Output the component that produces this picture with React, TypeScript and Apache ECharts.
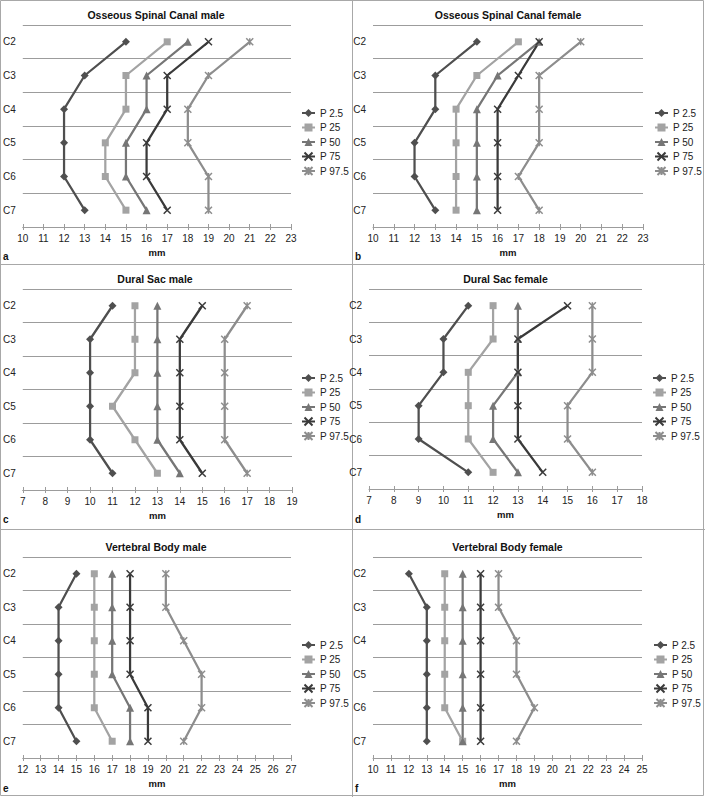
import React, { useEffect, useRef } from "react";
import * as echarts from "echarts";

const categories = ["C2", "C3", "C4", "C5", "C6", "C7"];
const percentiles = ["P 2.5", "P 25", "P 50", "P 75", "P 97.5"];

// rows: P 2.5, P 25, P 50, P 75, P 97.5 ; columns: C2..C7 (mm)
const osseousMale = [
  [15, 13, 12, 12, 12, 13],
  [17, 15, 15, 14, 14, 15],
  [18, 16, 16, 15, 15, 16],
  [19, 17, 17, 16, 16, 17],
  [21, 19, 18, 18, 19, 19],
];
const osseousFemale = [
  [15, 13, 13, 12, 12, 13],
  [17, 15, 14, 14, 14, 14],
  [18, 16, 15, 15, 15, 15],
  [18, 17, 16, 16, 16, 16],
  [20, 18, 18, 18, 17, 18],
];
const duralMale = [
  [11, 10, 10, 10, 10, 11],
  [12, 12, 12, 11, 12, 13],
  [13, 13, 13, 13, 13, 14],
  [15, 14, 14, 14, 14, 15],
  [17, 16, 16, 16, 16, 17],
];
const duralFemale = [
  [11, 10, 10, 9, 9, 11],
  [12, 12, 11, 11, 11, 12],
  [13, 13, 13, 12, 12, 13],
  [15, 13, 13, 13, 13, 14],
  [16, 16, 16, 15, 15, 16],
];
const vertebralMale = [
  [15, 14, 14, 14, 14, 15],
  [16, 16, 16, 16, 16, 17],
  [17, 17, 17, 17, 18, 18],
  [18, 18, 18, 18, 19, 19],
  [20, 20, 21, 22, 22, 21],
];
const vertebralFemale = [
  [12, 13, 13, 13, 13, 13],
  [14, 14, 14, 14, 14, 15],
  [15, 15, 15, 15, 15, 15],
  [16, 16, 16, 16, 16, 16],
  [17, 17, 18, 18, 19, 18],
];

const titles = [
  "Osseous Spinal Canal male",
  "Osseous Spinal Canal female",
  "Dural Sac male",
  "Dural Sac female",
  "Vertebral Body male",
  "Vertebral Body female",
];
const letters = ["a", "b", "c", "d", "e", "f"];
const datasets = [osseousMale, osseousFemale, duralMale, duralFemale, vertebralMale, vertebralFemale];
const xMins = [10, 10, 7, 7, 12, 10];
const xMaxs = [23, 23, 19, 18, 27, 25];
const axisName = "mm";

// layout (pixels)
const layout = [
  { left: 21, top: 25, width: 270, height: 202, titleTop: 9, legendLeft: 301, legendTop: 107, letterX: 3, letterY: 257 },
  { left: 373, top: 25, width: 270, height: 202, titleTop: 9, legendLeft: 654, legendTop: 107, letterX: 355, letterY: 257 },
  { left: 18, top: 289, width: 274, height: 201, titleTop: 273, legendLeft: 301, legendTop: 372, letterX: 3, letterY: 520 },
  { left: 369, top: 289, width: 273, height: 200, titleTop: 273, legendLeft: 652, legendTop: 372, letterX: 355, letterY: 520 },
  { left: 21, top: 557, width: 270, height: 201, titleTop: 541, legendLeft: 301, legendTop: 639, letterX: 3, letterY: 789 },
  { left: 373, top: 557, width: 269, height: 201, titleTop: 541, legendLeft: 653, legendTop: 639, letterX: 355, letterY: 789 },
];

const seriesColors = ["#4f4f4f", "#a3a3a3", "#767676", "#3a3a3a", "#8d8d8d"];
const seriesSymbols = [
  "diamond",
  "rect",
  "triangle",
  "path://M0,0L10,10M10,0L0,10",
  "path://M0,0L10,10M10,0L0,10M5,0L5,10",
];
const symbolSizes = [8, 7, 8, 7, 7];

const FONT = "'Liberation Sans', Arial, sans-serif";
const GRID_COLOR = "#9c9c9c";

export default function App() {
  const ref = useRef<HTMLDivElement>(null);
  useEffect(() => {
    document.body.style.margin = "0";
    if (!ref.current) return;
    const chart = echarts.init(ref.current, null, { renderer: "svg" });

    const grid: any[] = [];
    const xAxis: any[] = [];
    const yAxis: any[] = [];
    const title: any[] = [];
    const legend: any[] = [];
    const series: any[] = [];
    const graphic: any[] = [];

    layout.forEach((L, p) => {
      grid.push({ left: L.left, top: L.top, width: L.width, height: L.height, containLabel: false });
      title.push({
        text: titles[p],
        left: L.left + L.width / 2,
        top: L.titleTop,
        textAlign: "center",
        padding: 0,
        textStyle: { fontFamily: FONT, fontSize: 10.5, fontWeight: "bold", color: "#111" },
      });
      yAxis.push({
        type: "category",
        gridIndex: p,
        data: categories,
        inverse: true,
        axisLine: { show: false },
        axisTick: { show: false },
        axisLabel: { margin: 7, fontFamily: FONT, fontSize: 10, color: "#222" },
        splitLine: { show: true, lineStyle: { color: GRID_COLOR, width: 1 } },
      });
      legend.push({
        orient: "vertical",
        left: L.legendLeft,
        top: L.legendTop,
        padding: 0,
        itemWidth: 13,
        itemHeight: 10,
        itemGap: 2.5,
        data: percentiles,
        selectedMode: false,
        textStyle: { fontFamily: FONT, fontSize: 10, color: "#222", lineHeight: 12 },
      });
      graphic.push({
        type: "text",
        left: L.letterX,
        top: L.letterY - 6,
        style: { text: letters[p], font: `bold 10px ${FONT}`, fill: "#111" },
      });
      const data = datasets[p];
      data.forEach((vals, i) => {
        series.push({
          type: "line",
          name: percentiles[i],
          xAxisIndex: p,
          yAxisIndex: p,
          data: categories.map((c, j) => [vals[j], c]),
          symbol: seriesSymbols[i],
          symbolSize: symbolSizes[i],
          color: seriesColors[i],
          lineStyle: { color: seriesColors[i], width: 2.25 },
          itemStyle: {
            color: seriesColors[i],
            borderColor: seriesColors[i],
            borderWidth: i >= 3 ? 1.5 : 0,
          },
        });
      });
    });
    // main x axes
    layout.forEach((L, p) => {
      xAxis.push({
        type: "value",
        gridIndex: p,
        position: "bottom",
        min: xMins[p],
        max: xMaxs[p],
        interval: 1,
        name: axisName,
        nameLocation: "middle",
        nameGap: 20,
        nameTextStyle: { fontFamily: FONT, fontSize: 9.5, fontWeight: "bold", color: "#111" },
        axisLine: { show: true, lineStyle: { color: GRID_COLOR, width: 1 } },
        axisTick: { show: true, length: 3, lineStyle: { color: GRID_COLOR } },
        axisLabel: { margin: 6, fontFamily: FONT, fontSize: 10, color: "#222" },
        splitLine: { show: false },
      });
    });
    // helper axes for crossing ticks
    layout.forEach((L, p) => {
      xAxis.push({
        type: "value",
        gridIndex: p,
        position: "bottom",
        min: xMins[p],
        max: xMaxs[p],
        interval: 1,
        axisLine: { show: false },
        axisTick: { show: true, inside: true, length: 3, lineStyle: { color: GRID_COLOR } },
        axisLabel: { show: false },
        splitLine: { show: false },
      });
    });

    const B = "#a8a8a8";
    graphic.push(
      { type: "rect", shape: { x: 0.5, y: 0.5, width: 703, height: 795 }, style: { fill: "none", stroke: B, lineWidth: 1 }, silent: true },
      { type: "line", shape: { x1: 352.5, y1: 0, x2: 352.5, y2: 797 }, style: { stroke: B, lineWidth: 1 }, silent: true },
      { type: "line", shape: { x1: 0, y1: 264.5, x2: 705, y2: 264.5 }, style: { stroke: B, lineWidth: 1 }, silent: true },
      { type: "line", shape: { x1: 0, y1: 529.5, x2: 705, y2: 529.5 }, style: { stroke: B, lineWidth: 1 }, silent: true }
    );

    chart.setOption({
      animation: false,
      backgroundColor: "#ffffff",
      title,
      grid,
      xAxis,
      yAxis,
      legend,
      series,
      graphic,
    });
    return () => chart.dispose();
  }, []);
  return <div ref={ref} style={{ width: 705, height: 797 }} />;
}
